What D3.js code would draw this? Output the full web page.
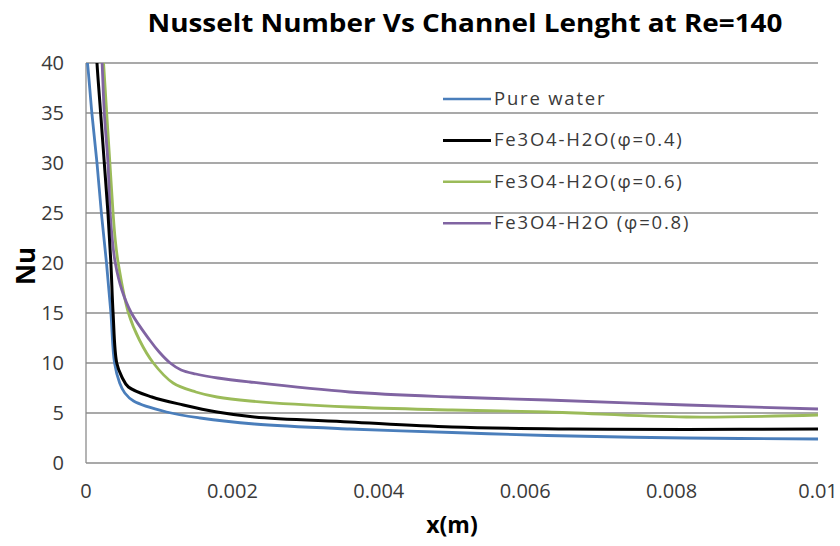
<!DOCTYPE html>
<html lang="en">
<head>
    <meta charset="UTF-8">
    <title>Nusselt Number Vs Channel Lenght at Re=140</title>
    <style>
        body {
            margin: 0;
            background: #fff;
            font-family: 'Open Sans', sans-serif;
        }
        .grid line {
            stroke: #8c8c8c;
            stroke-width: 1.3;
        }
        .tick-label {
            font-size: 20px;
            fill: #3a3a3a;
        }
        .legend-label {
            font-size: 18.5px;
            letter-spacing: 1.8px;
            fill: #3a3a3a;
        }
    </style>
    <script src="https://d3js.org/d3.v7.min.js"></script>
</head>
<body>
<div id="chart"></div>
<script>
    // x in metres, Nu
    var pureWater = [
        [0.0, 41], [0.00002, 40], [0.00008, 35], [0.00015, 30], [0.00021, 25],
        [0.00028, 20], [0.00034, 15], [0.00039, 10], [0.00046, 8.0], [0.00053, 7.0],
        [0.00065, 6.2], [0.0011, 5.1], [0.00156, 4.5], [0.0023, 3.9], [0.0036, 3.4],
        [0.005, 3.05], [0.0063, 2.75], [0.0082, 2.5], [0.01, 2.4]
    ];
    var fe04 = [
        [0.00013, 43], [0.00015, 40], [0.0002, 35], [0.00025, 30], [0.0003, 25],
        [0.00034, 20], [0.00037, 15], [0.00042, 10], [0.00049, 8.6], [0.00058, 7.6],
        [0.0009, 6.6], [0.00133, 5.8], [0.00179, 5.1], [0.0023, 4.6], [0.0036, 4.1],
        [0.005, 3.6], [0.0066, 3.4], [0.0082, 3.35], [0.01, 3.4]
    ];
    var fe06 = [
        [0.00021, 43], [0.00024, 40], [0.00037, 25], [0.0004, 22.3], [0.00044, 20],
        [0.00058, 15], [0.00073, 12.3], [0.00092, 10], [0.00119, 8.0], [0.0015, 7.1],
        [0.00179, 6.6], [0.00224, 6.2], [0.0036, 5.6], [0.005, 5.3], [0.0063, 5.1],
        [0.0082, 4.6], [0.01, 4.8]
    ];
    var fe08 = [
        [0.0002, 43], [0.00022, 40], [0.00025, 35], [0.0003, 30], [0.00033, 25],
        [0.00036, 22.3], [0.0004, 20], [0.00049, 17.3], [0.00062, 15], [0.00087, 12.3],
        [0.001, 11.1], [0.00115, 10], [0.0013, 9.3], [0.0015, 8.9], [0.0018, 8.5],
        [0.00224, 8.1], [0.0036, 7.1], [0.005, 6.6], [0.0063, 6.3], [0.0082, 5.8],
        [0.01, 5.4]
    ];

    var seriesNames = ["Pure water", "Fe3O4-H2O(\u03c6=0.4)", "Fe3O4-H2O(\u03c6=0.6)", "Fe3O4-H2O (\u03c6=0.8)"];
    var seriesColors = ["#4a7ebb", "#000000", "#9bbb59", "#8064a2"];
    var xTicks = [0, 0.002, 0.004, 0.006, 0.008, 0.01];
    var xTickLabels = ["0", "0.002", "0.004", "0.006", "0.008", "0.01"];
    var yTicks = [0, 5, 10, 15, 20, 25, 30, 35, 40];

    var width = 840;
    var height = 546;
    var margin = {top: 63, right: 22, bottom: 83, left: 86};

    var svg = d3.select("#chart")
        .append("svg")
        .attr("width", width)
        .attr("height", height);

    var x = d3.scaleLinear()
        .domain([0, 0.01])
        .range([margin.left, width - margin.right]);

    var y = d3.scaleLinear()
        .domain([0, 40])
        .range([height - margin.bottom, margin.top]);

    // title
    svg.append("text")
        .attr("x", 465)
        .attr("y", 32)
        .attr("text-anchor", "middle")
        .attr("textLength", 635)
        .attr("lengthAdjust", "spacingAndGlyphs")
        .style("font-size", "25px")
        .style("font-weight", "bold")
        .style("fill", "#000")
        .text("Nusselt Number Vs Channel Lenght at Re=140");

    // horizontal gridlines
    svg.append("g")
        .attr("class", "grid")
        .selectAll("line")
        .data(yTicks)
        .enter()
        .append("line")
        .attr("x1", x(0))
        .attr("x2", x(0.01))
        .attr("y1", function(d) { return y(d); })
        .attr("y2", function(d) { return y(d); });

    // left axis line
    svg.append("line")
        .attr("x1", x(0)).attr("x2", x(0))
        .attr("y1", y(0)).attr("y2", y(40))
        .style("stroke", "#8c8c8c")
        .style("stroke-width", 1.3);

    // y tick labels
    svg.selectAll(".ytick")
        .data(yTicks)
        .enter()
        .append("text")
        .attr("class", "tick-label")
        .attr("x", 64)
        .attr("y", function(d) { return y(d) + 7; })
        .attr("text-anchor", "end")
        .text(function(d) { return d; });

    // x tick labels
    svg.selectAll(".xtick")
        .data(xTicks)
        .enter()
        .append("text")
        .attr("class", "tick-label")
        .attr("x", function(d) { return x(d); })
        .attr("y", 498)
        .attr("text-anchor", "middle")
        .text(function(d, i) { return xTickLabels[i]; });

    // axis titles
    svg.append("text")
        .attr("x", 452)
        .attr("y", 533)
        .attr("text-anchor", "middle")
        .style("font-size", "23px")
        .style("font-weight", "bold")
        .text("x(m)");

    svg.append("text")
        .attr("transform", "translate(35,266) rotate(-90)")
        .attr("text-anchor", "middle")
        .style("font-size", "26px")
        .style("font-weight", "bold")
        .text("Nu");

    // clip the curves to the plot area
    svg.append("clipPath")
        .attr("id", "plot-clip")
        .append("rect")
        .attr("x", x(0))
        .attr("y", y(40))
        .attr("width", x(0.01) - x(0) + 2)
        .attr("height", y(0) - y(40));

    // smoothed lines like the spreadsheet chart
    var line = d3.line()
        .x(function(d) { return x(d[0]); })
        .y(function(d) { return y(d[1]); })
        .curve(d3.curveCatmullRom.alpha(0.5));

    var allSeries = [pureWater, fe04, fe06, fe08];
    // draw order: blue, green, purple, black on top like the reference
    var drawOrder = [0, 2, 3, 1];

    svg.append("g")
        .attr("clip-path", "url(#plot-clip)")
        .selectAll("path")
        .data(drawOrder)
        .enter()
        .append("path")
        .attr("d", function(i) { return line(allSeries[i]); })
        .style("fill", "none")
        .style("stroke", function(i) { return seriesColors[i]; })
        .style("stroke-width", function(i) { return i === 1 ? 3 : 2.8; });

    // legend
    var legend = svg.append("g")
        .selectAll("g")
        .data(seriesNames)
        .enter()
        .append("g")
        .attr("transform", function(d, i) { return "translate(443," + (99 + i * 41.4) + ")"; });

    legend.append("line")
        .attr("x1", 0)
        .attr("x2", 48)
        .style("stroke", function(d, i) { return seriesColors[i]; })
        .style("stroke-width", function(d, i) { return i === 1 ? 3 : 2.5; });

    legend.append("text")
        .attr("class", "legend-label")
        .attr("x", 51)
        .attr("y", 6)
        .text(function(d) { return d; });
</script>
</body>
</html>
